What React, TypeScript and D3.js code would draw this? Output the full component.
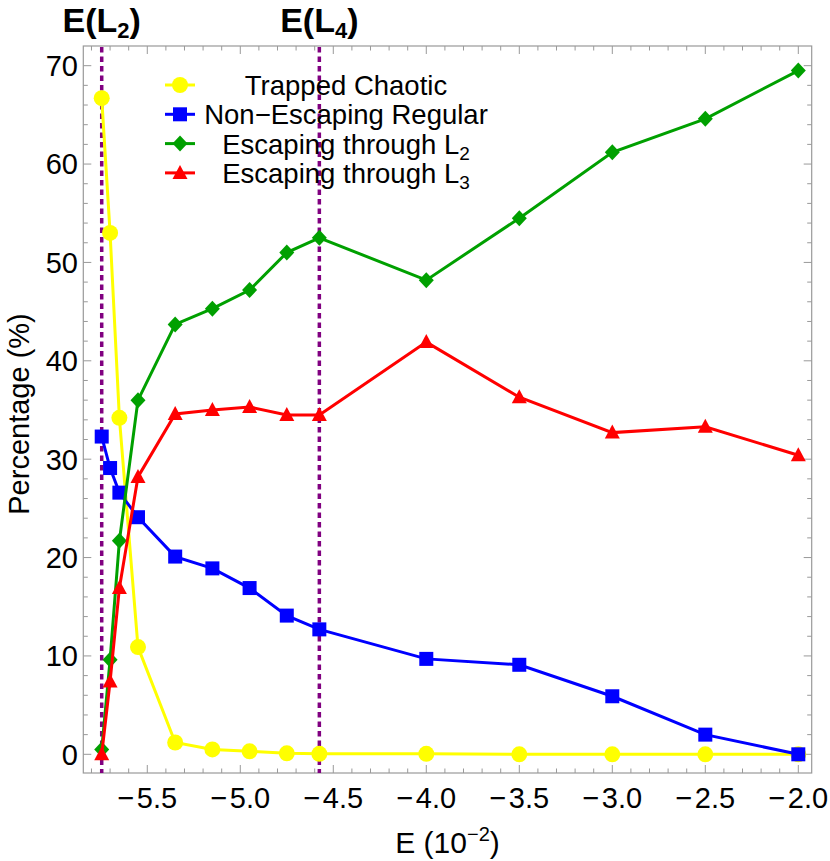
import React from "react";
import * as d3 from "d3";

const energies = [-5.745, -5.7, -5.65, -5.55, -5.35, -5.15, -4.95, -4.75, -4.575, -4.0, -3.5, -3.0, -2.5, -2.0];
const trappedChaotic = [66.7, 53.0, 34.2, 10.9, 1.2, 0.5, 0.3, 0.1, 0.05, 0.05, 0.0, 0.0, 0.0, 0.0];
const nonEscapingRegular = [32.3, 29.1, 26.6, 24.1, 20.1, 18.9, 16.9, 14.1, 12.7, 9.7, 9.1, 5.9, 2.0, 0.0];
const escapingL2 = [0.5, 9.6, 21.7, 36.0, 43.7, 45.3, 47.2, 51.0, 52.5, 48.2, 54.5, 61.2, 64.6, 69.5];
const escapingL3 = [0.0, 7.4, 16.9, 28.2, 34.6, 35.0, 35.3, 34.5, 34.5, 41.9, 36.3, 32.7, 33.3, 30.4];
const criticalEnergies = [-5.745, -4.575];
const criticalLabels = ["2", "4"];
const xTicks = [-5.5, -5.0, -4.5, -4.0, -3.5, -3.0, -2.5, -2.0];
const yTicks = [0, 10, 20, 30, 40, 50, 60, 70];

const FONT = "'Liberation Sans', Arial, sans-serif";

type Series = { name: string; sub?: string; color: string; marker: string; values: number[] };

const series: Series[] = [
  { name: "Trapped Chaotic", color: "#FFFF00", marker: "circle", values: trappedChaotic },
  { name: "Non\u2212Escaping Regular", color: "#0000FF", marker: "square", values: nonEscapingRegular },
  { name: "Escaping through L", sub: "2", color: "#00A000", marker: "diamond", values: escapingL2 },
  { name: "Escaping through L", sub: "3", color: "#FF0000", marker: "triangle", values: escapingL3 },
];

function Marker({ kind, cx, cy, color }: { kind: string; cx: number; cy: number; color: string }) {
  if (kind === "circle") return <circle cx={cx} cy={cy} r={8} fill={color} />;
  if (kind === "square") return <rect x={cx - 7} y={cy - 7} width={14} height={14} fill={color} />;
  if (kind === "diamond")
    return <path d={`M${cx},${cy - 8}L${cx + 7.5},${cy}L${cx},${cy + 8}L${cx - 7.5},${cy}Z`} fill={color} />;
  return <path d={`M${cx},${cy - 8}L${cx + 7.5},${cy + 6}L${cx - 7.5},${cy + 6}Z`} fill={color} />;
}

export default function App() {
  const left = 83.3, right = 811.7, top = 46, bottom = 773;
  const x = d3.scaleLinear().domain([-5.844, -1.928]).range([left, right]);
  const y = d3.scaleLinear().domain([-1.9, 72]).range([bottom, top]);
  const line = d3
    .line<[number, number]>()
    .x((d) => x(d[0]))
    .y((d) => y(d[1]));

  const xMinor = d3.range(-5.8, -1.95, 0.1).map((v) => Math.round(v * 10) / 10);
  const yMinor = d3.range(0, 71, 2);
  const frame = "#999999";

  return (
    <svg width={830} height={861} style={{ position: "absolute", left: 0, top: 0, background: "#fff" }} fontFamily={FONT}>
      {/* frame */}
      <rect x={left} y={top} width={right - left} height={bottom - top} fill="none" stroke={frame} strokeWidth={1.2} />
      {/* x ticks */}
      {xMinor.map((v) => {
        const major = xTicks.some((t) => Math.abs(t - v) < 1e-6);
        const len = major ? 8 : 4.5;
        return (
          <g key={"xt" + v} stroke={frame} strokeWidth={1}>
            <line x1={x(v)} x2={x(v)} y1={bottom} y2={bottom - len} />
            <line x1={x(v)} x2={x(v)} y1={top} y2={top + len} />
          </g>
        );
      })}
      {yMinor.map((v) => {
        const major = v % 10 === 0;
        const len = major ? 8 : 4.5;
        return (
          <g key={"yt" + v} stroke={frame} strokeWidth={1}>
            <line x1={left} x2={left + len} y1={y(v)} y2={y(v)} />
            <line x1={right} x2={right - len} y1={y(v)} y2={y(v)} />
          </g>
        );
      })}
      {xTicks.map((v) => (
        <text key={"xl" + v} x={x(v)} y={808} textAnchor="middle" fontSize={29} fill="#000">
          {"\u2212\u200A" + Math.abs(v).toFixed(1)}
        </text>
      ))}
      {yTicks.map((v) => (
        <text key={"yl" + v} x={78} y={y(v)} dy="0.36em" textAnchor="end" fontSize={29} fill="#000">
          {v}
        </text>
      ))}
      {/* axis labels */}
      <text x={(left + right) / 2} y={853} textAnchor="middle" fontSize={30} fill="#000">
        E (10
        <tspan dy={-12} fontSize={20}>
          {"\u22122"}
        </tspan>
        <tspan dy={12}>)</tspan>
      </text>
      <text transform={`translate(29,414) rotate(-90)`} textAnchor="middle" fontSize={29} fill="#000">
        Percentage (%)
      </text>
      {/* critical energy lines */}
      {criticalEnergies.map((e, i) => (
        <g key={"ce" + i}>
          <line x1={x(e)} x2={x(e)} y1={top + 1} y2={bottom} stroke="#800080" strokeWidth={3.5} strokeDasharray="5.5,4" />
          <text x={x(e)} y={32} textAnchor="middle" fontSize={34} fontWeight="bold" fill="#000">
            E(L
            <tspan dy={6} fontSize={22}>
              {criticalLabels[i]}
            </tspan>
            <tspan dy={-6}>)</tspan>
          </text>
        </g>
      ))}
      {/* series */}
      {series.map((s) => {
        const pts: [number, number][] = energies.map((e, i) => [e, s.values[i]]);
        return (
          <g key={s.name + (s.sub || "")}>
            <path d={line(pts) || ""} fill="none" stroke={s.color} strokeWidth={3} />
            {pts.map((p, i) => (
              <Marker key={i} kind={s.marker} cx={x(p[0])} cy={y(p[1])} color={s.color} />
            ))}
          </g>
        );
      })}
      {/* legend */}
      {series.map((s, i) => {
        const cy = 85 + i * 29.3;
        return (
          <g key={"lg" + i}>
            <line x1={165} x2={195} y1={cy} y2={cy} stroke={s.color} strokeWidth={3} />
            <Marker kind={s.marker} cx={180} cy={cy} color={s.color} />
            <text x={346} y={cy} dy="0.36em" textAnchor="middle" fontSize={27.5} fill="#000">
              {s.name}
              {s.sub ? (
                <tspan dy={6} fontSize={19}>
                  {s.sub}
                </tspan>
              ) : null}
            </text>
          </g>
        );
      })}
    </svg>
  );
}
